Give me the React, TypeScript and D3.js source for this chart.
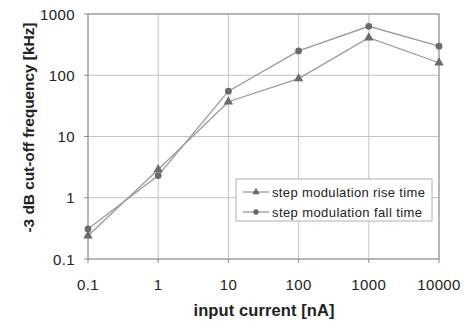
import React from "react";
import * as d3 from "d3";

const currents = [0.1, 1, 10, 100, 1000, 10000];
const riseTime = [0.24, 2.9, 37, 88, 410, 160];
const fallTime = [0.31, 2.3, 55, 250, 630, 298];
const yTicks = [0.1, 1, 10, 100, 1000];
const seriesNames = ["step modulation rise time", "step modulation fall time"];

export default function App() {
  const width = 466, height = 322;
  const margin = { top: 14, right: 27, bottom: 63, left: 88 };

  const x = d3.scaleLog().domain([0.1, 10000]).range([margin.left, width - margin.right]);
  const y = d3.scaleLog().domain([0.1, 1000]).range([height - margin.bottom, margin.top]);

  const line = d3.line<number>()
    .x((_, i) => x(currents[i]))
    .y(d => y(d));

  const tri = d3.symbol().type(d3.symbolTriangle).size(38)();
  const dot = d3.symbol().type(d3.symbolCircle).size(36)();

  const fmt = (v: number) => String(v);
  const font = "Liberation Sans, Arial, sans-serif";
  const x0 = margin.left, x1 = width - margin.right;
  const y0 = height - margin.bottom, y1 = margin.top;

  const lx = 236, ly = 179;

  return (
    <svg width={width} height={height} style={{ position: "absolute", left: 0, top: 0 }} fontFamily={font}>
      <rect width={width} height={height} fill="#fff" />
      {/* grid */}
      {yTicks.map(t => (
        <line key={"gy" + t} x1={x0} x2={x1} y1={y(t)} y2={y(t)} stroke="#c4c4c4" strokeWidth={1} />
      ))}
      {currents.map(t => (
        <line key={"gx" + t} x1={x(t)} x2={x(t)} y1={y0} y2={y1} stroke="#c4c4c4" strokeWidth={1} />
      ))}
      <rect x={x0} y={y1} width={x1 - x0} height={y0 - y1} fill="none" stroke="#8c8c8c" strokeWidth={1} />

      {/* ticks and labels */}
      {yTicks.map(t => (
        <g key={"ty" + t}>
          <line x1={x0 - 4} x2={x0} y1={y(t)} y2={y(t)} stroke="#8c8c8c" />
          <text x={x0 - 13} y={y(t)} dy="0.38em" textAnchor="end" fontSize={15} letterSpacing={0.4} fill="#222">{fmt(t)}</text>
        </g>
      ))}
      {currents.map(t => (
        <g key={"tx" + t}>
          <line x1={x(t)} x2={x(t)} y1={y0} y2={y0 + 4} stroke="#8c8c8c" />
          <text x={x(t)} y={y0 + 31} textAnchor="middle" fontSize={15} letterSpacing={0.4} fill="#222">{fmt(t)}</text>
        </g>
      ))}

      <text x={264} y={316} textAnchor="middle" fontSize={16.5} fontWeight="bold" fill="#222"
        textLength={141} lengthAdjust="spacing">input current [nA]</text>
      <text transform={`translate(34,127.5) rotate(-90)`} textAnchor="middle" fontSize={15.5} fontWeight="bold" fill="#222"
        textLength={210} lengthAdjust="spacing">-3 dB cut-off frequency [kHz]</text>

      {/* series */}
      <path d={line(riseTime) || ""} fill="none" stroke="#9a9a9a" strokeWidth={1.3} />
      <path d={line(fallTime) || ""} fill="none" stroke="#9a9a9a" strokeWidth={1.3} />
      {riseTime.map((v, i) => (
        <path key={"r" + i} d={tri || ""} transform={`translate(${x(currents[i])},${y(v)})`} fill="#6a6a6a" />
      ))}
      {fallTime.map((v, i) => (
        <path key={"f" + i} d={dot || ""} transform={`translate(${x(currents[i])},${y(v)})`} fill="#6a6a6a" />
      ))}

      {/* legend */}
      <rect x={lx} y={ly} width={196} height={42} fill="#fff" stroke="#b0b0b0" />
      {seriesNames.map((name, i) => (
        <g key={name} transform={`translate(${lx},${ly + 13 + i * 20})`}>
          <line x1={7} x2={33} y1={0} y2={0} stroke="#9a9a9a" strokeWidth={1.3} />
          <path d={(i === 0 ? d3.symbol().type(d3.symbolTriangle).size(24)() : d3.symbol().type(d3.symbolCircle).size(24)()) || ""} transform="translate(20,0)" fill="#6a6a6a" />
          <text x={36} y={0} dy="0.36em" fontSize={13} fill="#222"
            textLength={i === 0 ? 153 : 150} lengthAdjust="spacing">{name}</text>
        </g>
      ))}
    </svg>
  );
}
